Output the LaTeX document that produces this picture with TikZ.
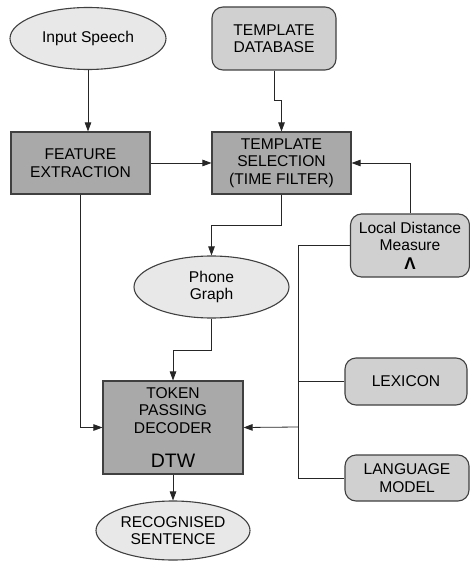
\documentclass[tikz,border=0pt]{standalone}
\usepackage{fontspec}
\setmainfont{Liberation Sans}
\usetikzlibrary{shapes.geometric,arrows.meta}
\definecolor{ellfill}{HTML}{E8E8E8}
\definecolor{rndfill}{HTML}{D0D0D0}
\definecolor{boxfill}{HTML}{A9A9A9}
\definecolor{edgecol}{HTML}{404040}
\begin{document}
\begin{tikzpicture}[x=1pt,y=-1pt,
  base/.style={draw=edgecol,line width=1.1pt,align=center,inner sep=0pt,
    font=\fontsize{15.6}{17.5}\selectfont,text=black},
  ell/.style={base,ellipse,fill=ellfill},
  rnd/.style={base,rectangle,rounded corners=11pt,fill=rndfill},
  sq/.style={base,rectangle,fill=boxfill},
  conn/.style={draw=black!85,line width=0.8pt},
  arr/.style={conn,-{Triangle[length=9pt,width=6.5pt]}}]
\useasboundingbox (0,0) rectangle (470,561);

\node[ell,minimum width=156pt,minimum height=62pt] (speech) at (88,38.5) {Input Speech};
\node[rnd,minimum width=124pt,minimum height=63pt] (tdb) at (274,38.5) {TEMPLATE\\DATABASE};
\node[sq,minimum width=139pt,minimum height=62pt] (fe) at (80.5,163) {FEATURE\\EXTRACTION};
\node[sq,minimum width=139pt,minimum height=62pt] (ts) at (281.5,163) {TEMPLATE\\SELECTION\\(TIME FILTER)};
\node[rnd,minimum width=119pt,minimum height=63pt] (ldm) at (410,245.5) {Local Distance\\Measure\\[1pt]{\fontsize{17}{17}\selectfont\bfseries Λ}};
\node[ell,minimum width=155pt,minimum height=62pt] (pg) at (211.5,287) {Phone\\Graph};
\node[rnd,minimum width=122pt,minimum height=47pt] (lex) at (406,381.5) {LEXICON};
\node[rnd,minimum width=124pt,minimum height=46pt] (lm) at (407,478) {LANGUAGE\\MODEL};
\node[sq,minimum width=140pt,minimum height=93pt] (tok) at (173,427.5) {TOKEN\\PASSING\\DECODER\\[17pt]{\fontsize{19.5}{20}\selectfont DTW}};
\node[ell,minimum width=154pt,minimum height=59pt] (rs) at (173,530.5) {RECOGNISED\\SENTENCE};

\coordinate (bus) at (298,427);

\draw[arr] (speech.south) -- (speech.south |- fe.north);
\draw[arr] (tdb.south) -- ++(0,30) -| (ts.north);
\draw[arr] (fe.east) -- (ts.west);
\draw[arr] (ldm.north) |- (ts.east);
\draw[arr] (ts.south) -- ++(0,31) -| (pg.north);
\draw[arr] (pg.south) -- ++(0,32) -| (tok.north);
\draw[arr] (fe.south) |- (tok.west);
\draw[conn] (ldm.west) -- (ldm.west -| bus) -- (lm.west -| bus) -- (lm.west);
\draw[conn] (lex.west) -- (lex.west -| bus);
\draw[arr] (bus) -- (tok.east);
\draw[arr] (tok.south) -- (rs.north);
\end{tikzpicture}
\end{document}
